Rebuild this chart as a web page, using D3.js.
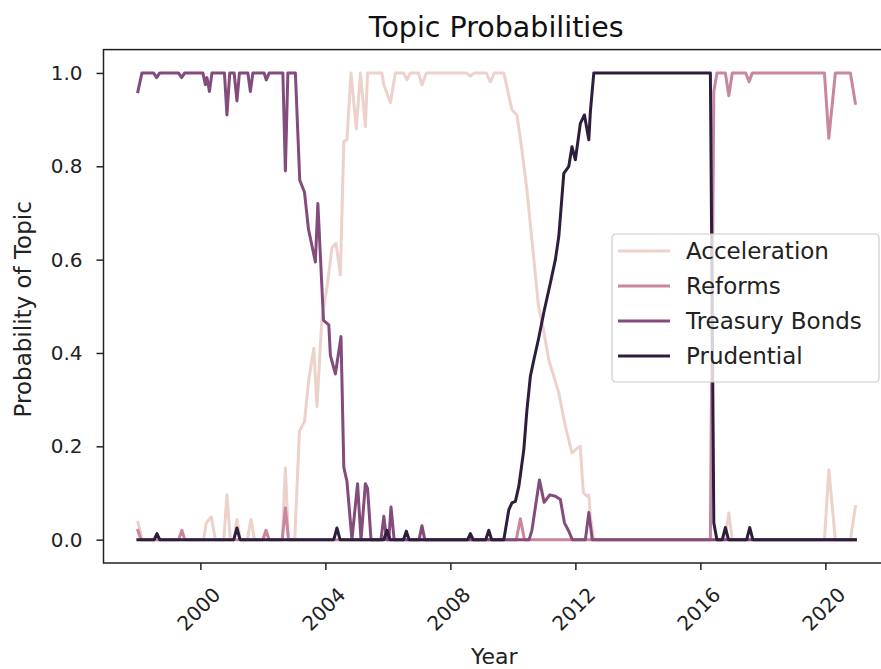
<!DOCTYPE html>
<html>
<head>
<meta charset="utf-8">
<script src="https://cdn.jsdelivr.net/npm/d3@7"></script>
<style>
  body { margin: 0; background: #fff; }
  svg { font-family: "DejaVu Sans", sans-serif; }
</style>
</head>
<body>
<svg id="chart" width="881" height="669"></svg>
<script>
// Topic probabilities ([decimal year, probability])
const topics = ['Acceleration', 'Reforms', 'Treasury Bonds', 'Prudential'];
const topicColors = ['#edd1cb', '#c8879e', '#834c7d', '#2d1e3e'];

const acceleration = [
  [1998.0, 0.037], [1998.14, 0], [2000.1, 0], [2000.19, 0.036], [2000.35, 0.049], [2000.48, 0],
  [2000.75, 0], [2000.85, 0.096], [2000.96, 0], [2001.07, 0], [2001.17, 0.043], [2001.28, 0],
  [2001.5, 0], [2001.62, 0.043], [2001.73, 0], [2002.0, 0], [2002.1, 0.02], [2002.2, 0],
  [2002.62, 0], [2002.72, 0.154], [2002.82, 0], [2003.02, 0], [2003.17, 0.232], [2003.33, 0.253],
  [2003.47, 0.343], [2003.63, 0.41], [2003.73, 0.285], [2003.89, 0.475], [2004.05, 0.539],
  [2004.21, 0.625], [2004.34, 0.635], [2004.48, 0.567], [2004.59, 0.853], [2004.69, 0.857],
  [2004.82, 1.0], [2004.99, 0.88], [2005.12, 1.0], [2005.28, 0.885], [2005.35, 1.0],
  [2005.81, 1.0], [2005.87, 0.974], [2005.97, 0.957], [2006.08, 0.936], [2006.24, 1.0],
  [2006.5, 1], [2006.61, 0.985], [2006.72, 1], [2006.98, 1], [2007.09, 0.974], [2007.23, 1],
  [2008.51, 1], [2008.64, 0.993], [2008.77, 1], [2009.15, 1], [2009.28, 0.981], [2009.41, 1],
  [2009.71, 1], [2009.97, 0.921], [2010.13, 0.91], [2010.29, 0.835], [2010.45, 0.749],
  [2010.61, 0.642], [2010.82, 0.5], [2010.98, 0.45], [2011.15, 0.385], [2011.47, 0.314],
  [2011.68, 0.243], [2011.89, 0.186], [2012.07, 0.196], [2012.16, 0.2], [2012.21, 0.143],
  [2012.26, 0.1], [2012.37, 0.093], [2012.43, 0.096], [2012.48, 0.05], [2012.59, 0],
  [2016.78, 0], [2016.91, 0.057], [2017.02, 0], [2019.97, 0], [2020.11, 0.15], [2020.32, 0],
  [2020.8, 0], [2020.96, 0.071]
];

const reforms = [
  [1998.0, 0.02], [1998.1, 0], [1999.3, 0], [1999.41, 0.02], [1999.5, 0], [2002.0, 0],
  [2002.1, 0.02], [2002.2, 0], [2002.62, 0], [2002.72, 0.068], [2002.82, 0], [2010.11, 0],
  [2010.24, 0.045], [2010.37, 0], [2016.32, 0], [2016.43, 0.96], [2016.53, 1.0], [2016.8, 1],
  [2016.91, 0.951], [2017.02, 1], [2017.45, 1], [2017.56, 0.981], [2017.66, 1], [2019.97, 1],
  [2020.11, 0.86], [2020.32, 1], [2020.8, 1], [2020.96, 0.935]
];

const treasuryBonds = [
  [1998.0, 0.96], [1998.13, 1], [1998.5, 1], [1998.6, 0.99], [1998.7, 1], [1999.3, 1],
  [1999.4, 0.99], [1999.5, 1], [2000.08, 1], [2000.16, 0.975], [2000.21, 0.99], [2000.29, 0.96],
  [2000.37, 1], [2000.77, 1], [2000.85, 0.91], [2000.94, 1], [2001.08, 1], [2001.17, 0.94],
  [2001.25, 1], [2001.52, 1], [2001.6, 0.96], [2001.68, 1], [2002.04, 1], [2002.11, 0.985],
  [2002.2, 1], [2002.64, 1], [2002.72, 0.79], [2002.8, 1], [2003.04, 1], [2003.18, 0.77],
  [2003.33, 0.745], [2003.46, 0.665], [2003.68, 0.595], [2003.76, 0.72], [2003.94, 0.47],
  [2004.11, 0.46], [2004.16, 0.395], [2004.32, 0.355], [2004.5, 0.435], [2004.59, 0.155],
  [2004.69, 0.125], [2004.85, 0], [2005.03, 0.12], [2005.14, 0], [2005.28, 0.12],
  [2005.35, 0.11], [2005.46, 0], [2005.78, 0], [2005.87, 0.05], [2005.96, 0], [2006.03, 0],
  [2006.1, 0.07], [2006.2, 0], [2007.0, 0], [2007.09, 0.03], [2007.18, 0], [2010.52, 0],
  [2010.61, 0.02], [2010.85, 0.128], [2011.0, 0.08], [2011.18, 0.096], [2011.36, 0.093],
  [2011.52, 0.086], [2011.65, 0.036], [2011.79, 0.018], [2011.9, 0], [2012.32, 0],
  [2012.43, 0.058], [2012.54, 0], [2020.96, 0]
];

const prudential = [
  [1998.0, 0], [1998.52, 0], [1998.61, 0.013], [1998.7, 0], [2001.07, 0], [2001.17, 0.025],
  [2001.27, 0], [2004.27, 0], [2004.37, 0.025], [2004.47, 0], [2005.87, 0], [2005.97, 0.02],
  [2006.07, 0], [2006.5, 0], [2006.59, 0.018], [2006.68, 0], [2008.55, 0], [2008.64, 0.013],
  [2008.73, 0], [2009.13, 0], [2009.23, 0.02], [2009.32, 0], [2009.71, 0], [2009.87, 0.064],
  [2009.97, 0.079], [2010.08, 0.082], [2010.19, 0.114], [2010.35, 0.193], [2010.45, 0.278],
  [2010.56, 0.35], [2010.67, 0.385], [2010.82, 0.43], [2011.0, 0.49], [2011.2, 0.55],
  [2011.36, 0.6], [2011.47, 0.65], [2011.63, 0.785], [2011.79, 0.8], [2011.89, 0.842],
  [2012.0, 0.814], [2012.16, 0.892], [2012.29, 0.91], [2012.43, 0.857], [2012.48, 0.917],
  [2012.59, 1.0], [2016.32, 1.0], [2016.43, 0.036], [2016.53, 0], [2016.7, 0], [2016.8, 0.026],
  [2016.9, 0], [2017.48, 0], [2017.58, 0.026], [2017.68, 0], [2020.96, 0]
];

const seriesValues = [acceleration, reforms, treasuryBonds, prudential];
const xTicks = [2000, 2004, 2008, 2012, 2016, 2020];
const yTicks = [0, 0.2, 0.4, 0.6, 0.8, 1.0];

// Plot box (right edge falls just outside the picture, as in the reference)
const plot = { left: 103.5, right: 891, top: 49.6, bottom: 563 };

const svg = d3.select('#chart');

const x = d3.scaleLinear().domain([1996.9, 2022.1]).range([plot.left, plot.right]);
const y = d3.scaleLinear().domain([-0.05, 1.05]).range([plot.bottom, plot.top]);

// Lines
const line = d3.line()
    .x(d => x(d[0]))
    .y(d => y(d[1]));

svg.append('g')
    .attr('class', 'lines')
    .selectAll('path')
    .data(seriesValues)
    .enter().append('path')
    .attr('d', line)
    .attr('fill', 'none')
    .attr('stroke', (d, i) => topicColors[i])
    .attr('stroke-width', 3)
    .attr('stroke-linejoin', 'round')
    .attr('stroke-linecap', 'square');

// Frame
svg.append('rect')
    .attr('x', plot.left)
    .attr('y', plot.top)
    .attr('width', plot.right - plot.left)
    .attr('height', plot.bottom - plot.top)
    .attr('fill', 'none')
    .attr('stroke', '#222')
    .attr('stroke-width', 1.5);

// Y axis
const yAxis = svg.append('g')
    .attr('transform', `translate(${plot.left},0)`)
    .call(d3.axisLeft(y).tickValues(yTicks).tickFormat(d3.format('.1f')).tickSize(7).tickPadding(14));

// X axis
const xAxis = svg.append('g')
    .attr('transform', `translate(0,${plot.bottom})`)
    .call(d3.axisBottom(x).tickValues(xTicks).tickFormat(d3.format('d')).tickSize(7));

[yAxis, xAxis].forEach(ax => {
    ax.select('.domain').remove();
    ax.selectAll('.tick line').attr('stroke', '#222').attr('stroke-width', 1.5);
    ax.selectAll('.tick text')
        .attr('fill', '#222')
        .style('font-family', '"DejaVu Sans", sans-serif')
        .style('font-size', '20px');
});

// Rotated year labels
xAxis.selectAll('.tick text')
    .attr('y', null)
    .attr('dy', '0.35em')
    .attr('text-anchor', 'middle')
    .attr('transform', 'translate(-2,46) rotate(-45)');

// Axis titles and chart title
svg.append('text')
    .attr('x', (plot.left + plot.right) / 2 - 1)
    .attr('y', 37)
    .attr('text-anchor', 'middle')
    .attr('fill', '#111')
    .style('font-size', '28.5px')
    .text('Topic Probabilities');

svg.append('text')
    .attr('x', (plot.left + plot.right) / 2 - 3)
    .attr('y', 664)
    .attr('text-anchor', 'middle')
    .attr('fill', '#222')
    .style('font-size', '22px')
    .text('Year');

svg.append('text')
    .attr('transform', `translate(23,${(plot.top + plot.bottom) / 2 + 3}) rotate(-90)`)
    .attr('dy', '0.35em')
    .attr('text-anchor', 'middle')
    .attr('fill', '#222')
    .style('font-size', '23px')
    .text('Probability of Topic');

// Legend
const legend = svg.append('g').attr('transform', 'translate(612,234)');

legend.append('rect')
    .attr('width', 267)
    .attr('height', 148)
    .attr('rx', 4)
    .attr('fill', 'rgba(255,255,255,0.8)')
    .attr('stroke', '#cccccc')
    .attr('stroke-width', 1.2);

const entry = legend.selectAll('.entry')
    .data(topics)
    .enter().append('g')
    .attr('class', 'entry')
    .attr('transform', (d, i) => `translate(0,${17 + i * 35})`);

entry.append('line')
    .attr('x1', 6)
    .attr('x2', 58)
    .attr('stroke', (d, i) => topicColors[i])
    .attr('stroke-width', 3);

entry.append('text')
    .attr('x', 74)
    .attr('dy', '0.35em')
    .attr('fill', '#222')
    .style('font-size', '23px')
    .text(d => d);
</script>
</body>
</html>
